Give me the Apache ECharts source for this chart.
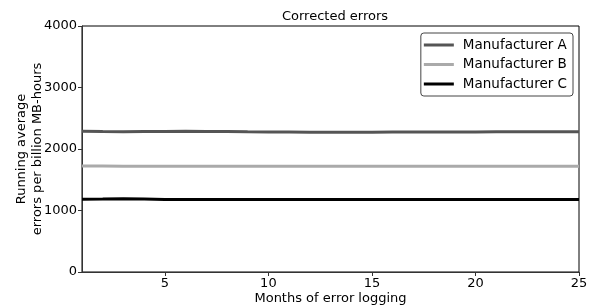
<!DOCTYPE html>
<html>
<head>
<meta charset="utf-8">
<script src="https://cdn.jsdelivr.net/npm/echarts@6/dist/echarts.min.js"></script>
<style>
html, body { margin: 0; padding: 0; background: #fff; }
#main { width: 593px; height: 308px; }
</style>
</head>
<body>
<div id="main"></div>
<script>
// months of logging and running averages
var months = [1, 2, 3, 4, 5, 6, 7, 8, 9, 10, 11, 12, 13, 14, 15, 16, 17, 18, 19, 20, 21, 22, 23, 24, 25];
var manufA = [2290, 2285, 2282, 2284, 2286, 2287, 2286, 2283, 2279, 2276, 2275, 2274, 2274, 2274, 2274, 2275, 2276, 2277, 2277, 2278, 2279, 2280, 2280, 2280, 2281];
var manufB = [1722, 1724, 1720, 1719, 1720, 1721, 1721, 1720, 1720, 1720, 1720, 1720, 1720, 1720, 1720, 1720, 1720, 1720, 1720, 1720, 1720, 1720, 1720, 1720, 1720];
var manufC = [1182, 1185, 1192, 1186, 1180, 1178, 1178, 1177, 1177, 1177, 1177, 1177, 1177, 1177, 1177, 1177, 1177, 1177, 1177, 1177, 1177, 1177, 1177, 1177, 1177];
var seriesNames = ['Manufacturer A', 'Manufacturer B', 'Manufacturer C'];
var seriesColors = ['#555555', '#aaaaaa', '#000000'];
var xTicks = [5, 10, 15, 20, 25];

var font = 'DejaVu Sans';
var myChart = echarts.init(document.getElementById('main'));

function pairs(ys) {
	var out = [];
	for (var i = 0; i < months.length; i++) {
		out.push([months[i], ys[i]]);
	}
	return out;
}

var values = [manufA, manufB, manufC];
var series = [];
for (var i = 0; i < values.length; i++) {
	series.push({
		name : seriesNames[i],
		type : 'line',
		data : pairs(values[i]),
		symbol : 'none',
		lineStyle : { color : seriesColors[i], width : 3 },
		itemStyle : { color : seriesColors[i] },
		z : 3 - i
	});
}

option = {
	backgroundColor : '#ffffff',
	animation : false,
	textStyle : { fontFamily : font },
	title : {
		text : 'Corrected errors',
		left : 330,
		textAlign : 'center',
		top : 5,
		textStyle : { fontFamily : font, fontSize : 13, fontWeight : 'normal', color : '#000' }
	},
	legend : {
		orient : 'vertical',
		right : 20,
		top : 33,
		data : seriesNames,
		icon : 'rect',
		itemWidth : 30,
		itemHeight : 3,
		itemGap : 5.5,
		padding : [5, 6, 5, 3],
		borderColor : '#444',
		borderWidth : 1,
		borderRadius : 3,
		textStyle : { fontFamily : font, fontSize : 13.5, color : '#000', padding : [0, 0, 0, 4] }
	},
	grid : {
		left : 82,
		right : 14,
		top : 26,
		bottom : 36,
		outerBoundsMode : 'none',
		containLabel : false,
		show : true,
		borderColor : '#000',
		borderWidth : 1
	},
	xAxis : {
		type : 'value',
		min : 1,
		max : 25,
		name : 'Months of error logging',
		nameLocation : 'middle',
		nameGap : 20,
		nameMoveOverlap : false,
		nameTextStyle : { fontFamily : font, fontSize : 13, color : '#000' },
		splitLine : { show : false },
		axisLine : { lineStyle : { color : '#333', width : 1 } },
		axisTick : { customValues : xTicks, length : 4, lineStyle : { color : '#333' } },
		axisLabel : { customValues : xTicks, fontFamily : font, fontSize : 13, color : '#000', margin : 5 }
	},
	yAxis : {
		type : 'value',
		min : 0,
		max : 4000,
		interval : 1000,
		name : 'Running average\nerrors per billion MB-hours',
		nameLocation : 'middle',
		nameGap : 36,
		nameMoveOverlap : false,
		nameTextStyle : { fontFamily : font, fontSize : 13, color : '#000', lineHeight : 16 },
		splitLine : { show : false },
		axisLine : { show : true, lineStyle : { color : '#333', width : 1 } },
		axisTick : { show : true, length : 4, lineStyle : { color : '#333' } },
		axisLabel : {
			fontFamily : font, fontSize : 13, color : '#000', margin : 5,
			formatter : function(v) { return String(v); }
		}
	},
	series : series
};
myChart.setOption(option, true);
</script>
</body>
</html>
